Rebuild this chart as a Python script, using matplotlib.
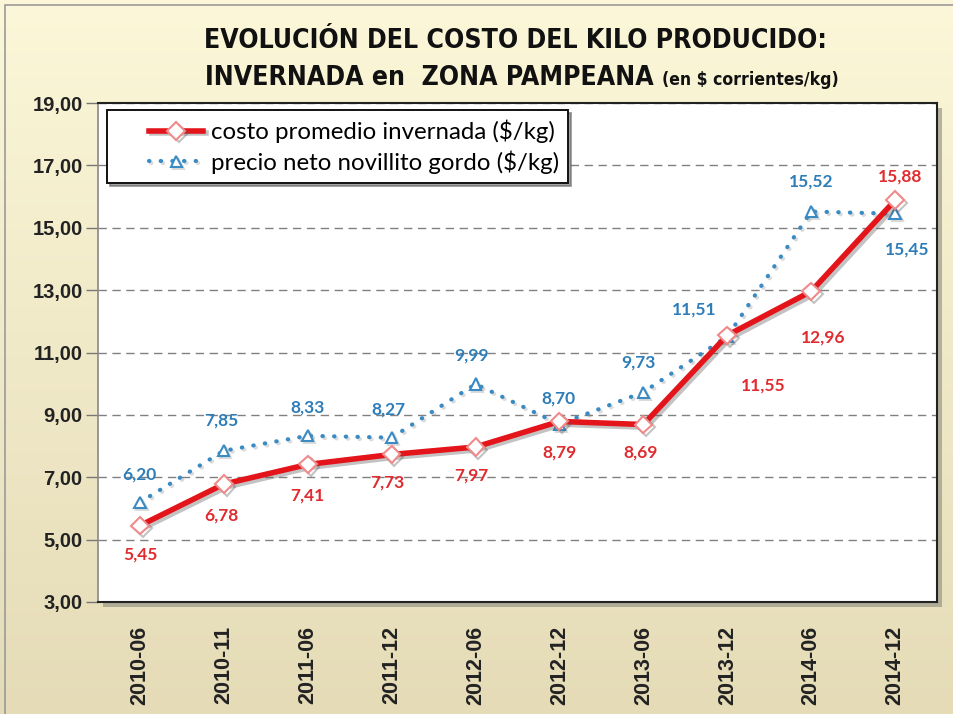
import matplotlib
matplotlib.use("Agg")
import matplotlib.pyplot as plt
import matplotlib.patheffects as pe
from matplotlib.patches import Rectangle
from matplotlib.lines import Line2D
from matplotlib.legend_handler import HandlerLine2D
import numpy as np

# ==========================
# Data
# ==========================

periods = ["2010-06", "2010-11", "2011-06", "2011-12", "2012-06",
           "2012-12", "2013-06", "2013-12", "2014-06", "2014-12"]

costo = [5.45, 6.78, 7.41, 7.73, 7.97, 8.79, 8.69, 11.55, 12.96, 15.88]
precio = [6.20, 7.85, 8.33, 8.27, 9.99, 8.70, 9.73, 11.51, 15.52, 15.45]

label_costo = "costo promedio invernada ($/kg)"
label_precio = "precio neto novillito gordo ($/kg)"

yticks = [3, 5, 7, 9, 11, 13, 15, 17, 19]

# label offsets in pixels (style, not data)
off_costo = [(0, -29), (-2, -31), (0, -31), (-4, -28), (-4, -29),
             (0, -31), (-3, -28), (36, -50), (12, -46), (5, 24)]
off_precio = [(-1, 28), (-2, 30), (0, 28), (-3, 28), (-4, 28),
              (-1, 26), (-5, 30), (-33, 27), (0, 30), (12, -36)]

RED = "#e4141b"
BLUE = "#3a8bc4"
RED_TXT = "#e02b2f"
BLUE_TXT = "#2e7db8"

W, H = 954, 714
fig = plt.figure(figsize=(W / 100, H / 100), dpi=100)

# ==========================
# Background
# ==========================

bg = fig.add_axes([0, 0, 1, 1], zorder=-10)
grad = np.linspace(0, 1, 256)[:, None]
top = np.array([251, 247, 216]) / 255
bot = np.array([229, 219, 183]) / 255
img = top[None, None, :] * (1 - grad[:, :, None]) + bot[None, None, :] * grad[:, :, None]
bg.imshow(img, aspect="auto", extent=[0, 1, 0, 1], origin="upper")
bg.add_patch(Rectangle((5 / W, -0.01), 1.02, 1 - 5 / H + 0.01, fill=False,
                       edgecolor="#9a9a9a", lw=1.2))
bg.set_xlim(0, 1)
bg.set_ylim(0, 1)
bg.axis("off")

# ==========================
# Plot area
# ==========================

left, right = 98 / W, 937 / W
bottom, topp = 1 - 602 / H, 1 - 103 / H

# shadow of the plot area
fig.patches.append(Rectangle((left + 5 / W, bottom - 5 / H), right - left, topp - bottom,
                             transform=fig.transFigure, facecolor="#8a8a80",
                             alpha=0.6, zorder=-5))

ax = fig.add_axes([left, bottom, right - left, topp - bottom])
ax.set_facecolor("white")

x = np.arange(len(periods))

ax.plot(x, costo, color=RED, lw=4, marker="D", ms=9, mfc="white",
        mec="#f08a8a", mew=1.5, zorder=4, label=label_costo,
        path_effects=[pe.SimpleLineShadow(offset=(2, -2), shadow_color="#555555", alpha=0.35),
                      pe.Normal()])

ax.plot(x, precio, color=BLUE, lw=3, dashes=(0.1, 2.7), dash_capstyle="round",
        marker="^", ms=8, mfc="white", mec=BLUE, mew=1.5, zorder=3,
        label=label_precio,
        path_effects=[pe.SimpleLineShadow(offset=(1.5, -1.5), shadow_color="#888888", alpha=0.3),
                      pe.Normal()])

for xi, v, o in zip(x, costo, off_costo):
    ax.annotate(f"{v:.2f}".replace(".", ","), (xi, v), xytext=o,
                textcoords="offset pixels", ha="center", va="center",
                color=RED_TXT, fontsize=12.5, fontweight="bold", family="Lato", zorder=6)

for xi, v, o in zip(x, precio, off_precio):
    ax.annotate(f"{v:.2f}".replace(".", ","), (xi, v), xytext=o,
                textcoords="offset pixels", ha="center", va="center",
                color=BLUE_TXT, fontsize=12.5, fontweight="bold", family="Lato", zorder=6)

ax.set_xlim(-0.5, len(periods) - 0.5)
ax.set_ylim(3, 19)
ax.set_yticks(yticks)
ax.set_yticklabels([f"{t:.2f}".replace(".", ",") for t in yticks],
                   fontsize=14.5, fontweight="bold", family="Liberation Sans", color="#222222")
ax.set_xticks(x)
ax.set_xticklabels(periods, rotation=90, fontsize=15.5, fontweight="bold",
                   family="Liberation Sans", color="#222222")
ax.tick_params(axis="x", length=0, pad=17)
ax.tick_params(axis="y", length=9, width=1, color="#777777", pad=2)

ax.grid(axis="y", color="#808080", lw=1, dashes=(6, 4))
ax.set_axisbelow(True)

for s in ["top", "right", "bottom"]:
    ax.spines[s].set_color("#222222")
    ax.spines[s].set_linewidth(1.5)
ax.spines["left"].set_color("#888888")
ax.spines["left"].set_linewidth(1.2)

leg = ax.legend(loc="upper left", bbox_to_anchor=(0.011, 0.986), borderaxespad=0,
                prop={"family": "Lato", "size": 17.3}, frameon=True, fancybox=False,
                shadow={"color": "#666666", "alpha": 0.6}, handlelength=3.6,
                handletextpad=0.3, borderpad=0.4, labelspacing=0.3,
                handler_map={Line2D: HandlerLine2D(xpad=1.35)})
leg.get_frame().set_edgecolor("#111111")
leg.get_frame().set_linewidth(1.4)
leg.get_frame().set_alpha(1)

# ==========================
# Title
# ==========================

tprops = dict(fontweight="bold", family="DejaVu Sans", fontstretch="condensed",
              color="#111111")
t1 = fig.text(515 / W, 1 - 41 / H, "EVOLUCIÓN DEL COSTO DEL KILO PRODUCIDO:",
              ha="center", va="center", fontsize=25, **tprops)
fig.canvas.draw()
# fit first line to its width in the reference
fs = 25 * 623 / t1.get_window_extent().width
t1.set_fontsize(fs)
t2 = fig.text(205 / W, 1 - 78 / H, "INVERNADA en  ZONA PAMPEANA",
              ha="left", va="center", fontsize=fs, **tprops)
fig.canvas.draw()
bb = t2.get_window_extent()
fig.text((bb.x1 + 8) / W, 1 - 80 / H, "(en $ corrientes/kg)",
         ha="left", va="center", fontsize=fs * 0.66, **tprops)

fig.savefig("out.png", dpi=100)
